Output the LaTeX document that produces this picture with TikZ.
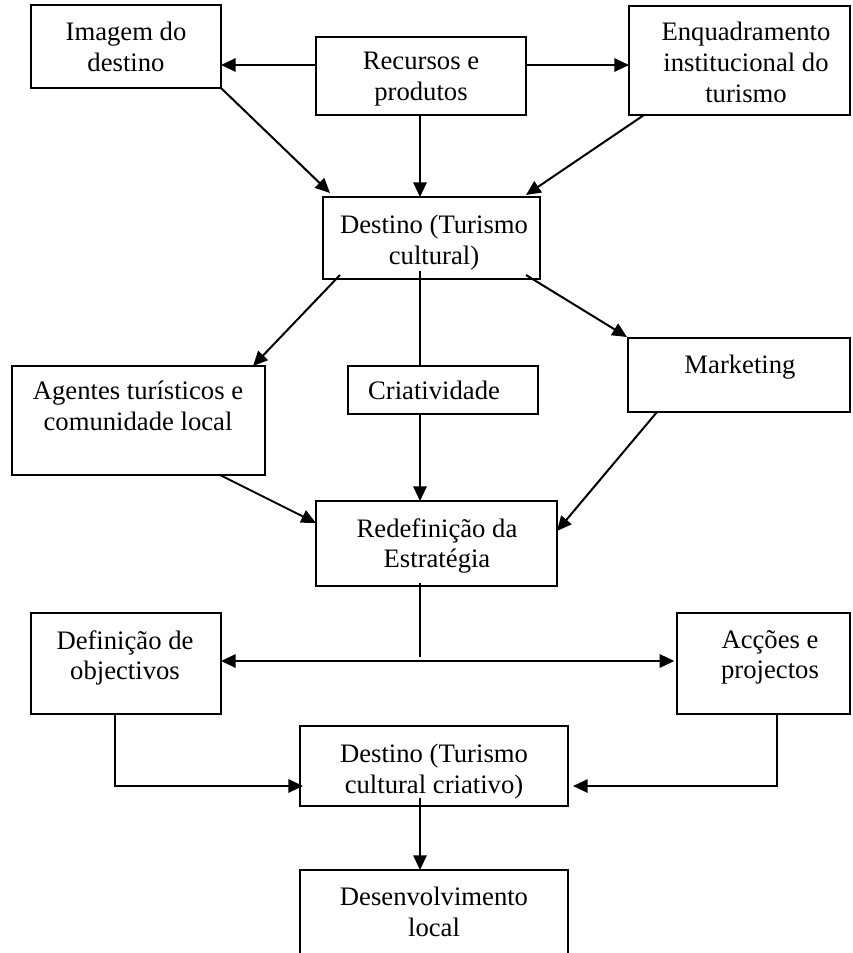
\documentclass[tikz,border=0pt]{standalone}
\usepackage{fontspec}
\setmainfont{Liberation Serif}
\usetikzlibrary{fit,calc,arrows.meta}
\begin{document}
\begin{tikzpicture}[x=0.75pt,y=-0.75pt,
  box/.style={draw, line width=1.2pt, inner sep=0pt, outer sep=0pt},
  lbl/.style={anchor=north, inner sep=0pt, align=center, font=\fontsize{20}{23}\selectfont},
  conn/.style={line width=1.5pt},
  thin conn/.style={line width=0.8pt},
  arr/.style={conn, -{Triangle[length=11pt,width=10pt]}},
  darr/.style={conn, {Triangle[length=11pt,width=10pt]}-{Triangle[length=11pt,width=10pt]}}]
\useasboundingbox (0,0) rectangle (853,953);
\clip (0,0) rectangle (853,953);
% boxes
\node[box, fit={(31,5)(221,88)}] (img) {};
\node[box, fit={(316,37)(526,115)}] (rec) {};
\node[box, fit={(629,6)(850,115)}] (enq) {};
\node[box, fit={(323,197)(540,279)}] (dst1) {};
\node[box, fit={(12,366)(265,475)}] (agt) {};
\node[box, fit={(348,366)(538,414)}] (cri) {};
\node[box, fit={(628,338)(850,412)}] (mkt) {};
\node[box, fit={(316,501)(557,586)}] (red) {};
\node[box, fit={(31,613)(221,714)}] (def) {};
\node[box, fit={(677,613)(850,714)}] (acc) {};
\node[box, fit={(300,726)(568,806)}] (dst2) {};
\node[box, fit={(300,870)(568,990)}] (dev) {};
% labels
\node[lbl] (timg) at (126,22) {Imagem do\\destino};
\node[lbl] (trec) at (421,52) {Recursos e\\produtos};
\node[lbl] (tenq) at (746,22) {Enquadramento\\institucional do\\turismo};
\node[lbl] (tdst1) at (434,215) {Destino (Turismo\\cultural)};
\node[lbl] (tagt) at (138,381) {Agentes turísticos e\\comunidade local};
\node[lbl] (tcri) at (434,381) {Criatividade};
\node[lbl] (tmkt) at (740,355) {Marketing};
\node[lbl] (tred) at (437,518) {Redefinição da\\Estratégia};
\node[lbl] (tdef) at (125,630) {Definição de\\objectivos};
\node[lbl] (tacc) at (770,630) {Acções e\\projectos};
\node[lbl] (tdst2) at (434,744) {Destino (Turismo\\cultural criativo)};
\node[lbl] (tdev) at (434,887) {Desenvolvimento\\local};
% helper coordinates
\coordinate (ytop) at (0,65);
\coordinate (x420) at (420,0);
\coordinate (yh) at (0,661);
\coordinate (yl) at (0,786);
\coordinate (recS) at (rec.south -| x420);
\coordinate (dst1N) at (dst1.north -| x420);
\coordinate (dst1S) at (dst1.south -| x420);
\coordinate (criN) at (cri.north -| x420);
\coordinate (criS) at (cri.south -| x420);
\coordinate (redN) at (red.north -| x420);
\coordinate (redS) at (red.south -| x420);
\coordinate (mid) at (420,657);
\coordinate (dst2S) at (dst2.south -| x420);
\coordinate (devN) at (dev.north -| x420);
\coordinate (dst2W) at (dst2.west |- yl);
\coordinate (dst2E) at (dst2.east |- yl);
% connectors
\draw[arr] (rec.west |- ytop) -- (img.east |- ytop);
\draw[arr] (rec.east |- ytop) -- (enq.west |- ytop);
\draw[arr] (img.south east) -- ($(dst1.north west)+(7,-4)$);
\draw[arr] (recS) -- (dst1N);
\draw[arr] ($(enq.south west)+(15,0)$) -- ($(dst1.north east)+(-14,-2)$);
\draw[arr] ($(dst1.south west)+(17,-4)$) -- ($(agt.north east)+(-12,0)$);
\draw[conn] ($(dst1S)+(0,-8)$) -- (criN);
\draw[arr] (criS) -- (redN);
\draw[arr] ($(dst1.south east)+(-14,-4)$) -- ($(mkt.north west)+(-1,-1)$);
\draw[arr] ($(agt.south east)+(-45,0)$) -- ($(red.north west)+(0,22)$);
\draw[arr] ($(mkt.south west)+(29,0)$) -- ($(red.north east)+(0,30)$);
\draw[thin conn] ($(redS)+(0,-3)$) -- (mid);
\draw[darr, shorten >=2pt] (def.east |- yh) -- (acc.west |- yh);
\draw[arr] ($(def.south west)+(84,0)$) |- ($(dst2W)+(3,0)$);
\draw[arr] ($(acc.south west)+(100,0)$) |- ($(dst2E)+(5,0)$);
\draw[arr] ($(dst2S)+(0,-8)$) -- (devN);
\end{tikzpicture}
\end{document}
